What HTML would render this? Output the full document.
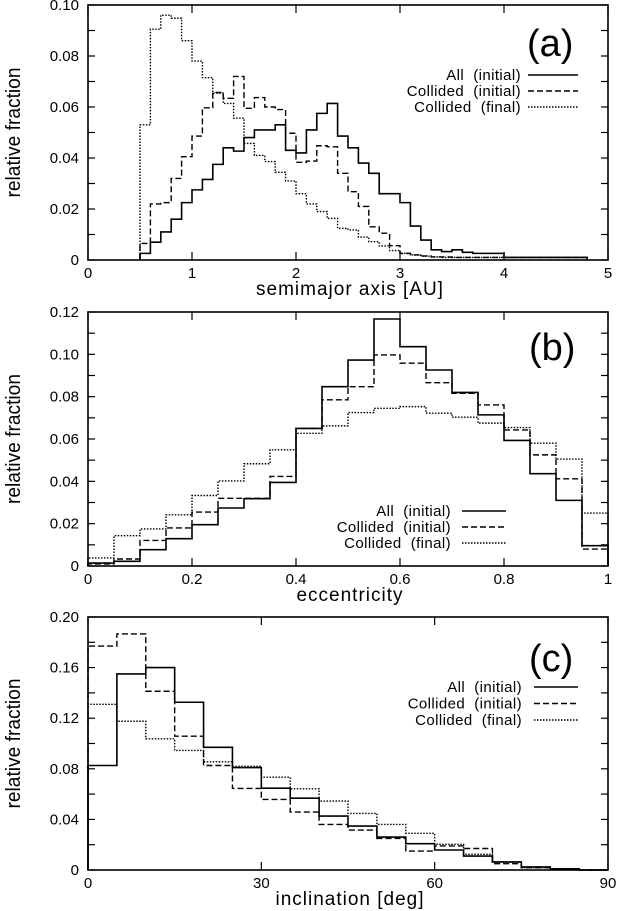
<!DOCTYPE html>
<html><head><meta charset="utf-8"><style>
html,body{margin:0;padding:0;background:#fff;}
svg{display:block;font-family:"Liberation Sans",sans-serif;}
text{white-space:pre;}
</style></head><body>
<svg id="chart" width="622" height="911" viewBox="0 0 622 911" xmlns="http://www.w3.org/2000/svg"></svg>
<script>
// ---- Panel (a): semimajor axis, bins of 0.1 AU starting at 0.5 ----
const aStart = 0.5;
const aBinWidth = 0.1;
const aAllInitial = [0.0026,0.007,0.011,0.016,0.0225,0.0275,0.0316,0.0375,0.044,0.0427,0.048,0.051,0.051,0.053,0.043,0.042,0.051,0.0575,0.0614,0.0486,0.044,0.038,0.034,0.026,0.026,0.0225,0.0133,0.0078,0.004,0.0033,0.004,0.003,0.0026,0.0026,0.0026,0.001,0.001,0.001,0.001,0.001,0.001,0.001,0.001];
const aCollInitial = [0.0065,0.022,0.0225,0.032,0.0405,0.0486,0.0597,0.0657,0.0634,0.072,0.0595,0.0637,0.06,0.059,0.0497,0.0383,0.0388,0.0448,0.0444,0.034,0.0268,0.021,0.013,0.0105,0.0056,0.0026,0.002,0.0016,0.0012,0.0012,0.001,0.001,0.001,0.001,0.001,0.001,0.001,0.001,0.001,0.001,0.001,0.001,0.001];
const aCollFinal = [0.053,0.0905,0.096,0.0948,0.086,0.078,0.0715,0.0654,0.0614,0.0556,0.0457,0.041,0.0386,0.0344,0.031,0.026,0.022,0.019,0.0163,0.0124,0.0118,0.009,0.0072,0.0055,0.0037,0.0026,0.002,0.0015,0.0012,0.001,0.001,0.001,0.001,0.001,0.001,0.001,0.001,0.001,0.001,0.001,0.001,0.001,0.001];
const aXTicks = ["0","1","2","3","4","5"];
const aYTicks = ["0","0.02","0.04","0.06","0.08","0.10"];

// ---- Panel (b): eccentricity, bins of 0.05 ----
const bStart = 0;
const bBinWidth = 0.05;
const bAllInitial = [0.0014,0.0022,0.0077,0.0129,0.0195,0.0274,0.0318,0.0395,0.065,0.0847,0.0973,0.1167,0.1036,0.0926,0.082,0.0714,0.0593,0.0436,0.031,0.0096];
const bCollInitial = [0.001,0.0033,0.0121,0.018,0.0255,0.032,0.032,0.0423,0.065,0.0785,0.0847,0.0997,0.0958,0.0866,0.0816,0.0761,0.0643,0.0525,0.0412,0.008];
const bCollFinal = [0.0038,0.0143,0.0175,0.0242,0.0333,0.0402,0.0483,0.0549,0.0627,0.0662,0.0725,0.0745,0.0753,0.0722,0.0703,0.0675,0.0654,0.058,0.0505,0.025];
const bXTicks = ["0","0.2","0.4","0.6","0.8","1"];
const bYTicks = ["0","0.02","0.04","0.06","0.08","0.10","0.12"];

// ---- Panel (c): inclination, bins of 5 deg ----
const cStart = 0;
const cBinWidth = 5;
const cAllInitial = [0.0826,0.155,0.16,0.1326,0.097,0.081,0.0647,0.0568,0.0426,0.0347,0.026,0.0208,0.0158,0.011,0.0063,0.0024,0.001,0];
const cCollInitial = [0.177,0.1866,0.1413,0.1058,0.0826,0.0645,0.0558,0.0458,0.036,0.0316,0.025,0.015,0.019,0.017,0.005,0.0018,0.0005,0];
const cCollFinal = [0.131,0.1176,0.1037,0.0945,0.0855,0.082,0.0734,0.0642,0.0545,0.0447,0.036,0.029,0.0203,0.0124,0.0066,0.0018,0.0003,0];
const cXTicks = ["0","30","60","90"];
const cYTicks = ["0","0.04","0.08","0.12","0.16","0.20"];

const NS = "http://www.w3.org/2000/svg";
const svg = document.getElementById("chart");
function mk(tag, attrs, parent){
  const e = document.createElementNS(NS, tag);
  for (const k in attrs) e.setAttribute(k, attrs[k]);
  (parent||svg).appendChild(e);
  return e;
}
const dashes = {solid:"", dashed:"6,3", dotted:"1.5,1.5"};

function panel(cfg){
  const g = mk("g", {});
  
  
  const L=88, R=608, T=cfg.top, B=cfg.bottom;
  const sx = v => L + (v - cfg.xmin)/(cfg.xmax - cfg.xmin)*(R-L);
  const sy = v => B - (v - 0)/(cfg.ymax)*(B-T);
  const series = [[cfg.all,"solid","series-all-initial"],[cfg.ci,"dashed","series-collided-initial"],[cfg.cf,"dotted","series-collided-final"]];
  series.forEach(([vals,style,nm])=>{
    let d = "M" + sx(cfg.start) + "," + sy(0);
    vals.forEach((v,i)=>{
      const x0 = sx(cfg.start + i*cfg.bw), x1 = sx(cfg.start + (i+1)*cfg.bw);
      d += " L" + x0.toFixed(2) + "," + sy(v).toFixed(2) + " L" + x1.toFixed(2) + "," + sy(v).toFixed(2);
    });
    d += " L" + sx(cfg.start + vals.length*cfg.bw).toFixed(2) + "," + sy(0);
    const p = mk("path", {d:d, fill:"none", stroke:"#000", "stroke-width": style==="solid"?1.6:1.4}, g);
    if (dashes[style]) p.setAttribute("stroke-dasharray", dashes[style]);
    
    
  });
  const fr = mk("rect", {x:L, y:T, width:R-L, height:B-T, fill:"none", stroke:"#000", "stroke-width":1.6}, g);
  
  
  for (let v=0; v<=cfg.ymax+1e-9; v+=cfg.yminor){
    const y = sy(v);
    mk("line",{x1:L,y1:y,x2:L+7,y2:y,stroke:"#000","stroke-width":1.2},g);
    mk("line",{x1:R,y1:y,x2:R-7,y2:y,stroke:"#000","stroke-width":1.2},g);
  }
  cfg.yTicks.forEach(lbl=>{
    const t = mk("text",{x:79,y:sy(parseFloat(lbl))+5,"text-anchor":"end","font-size":15},g);
    t.textContent = lbl;
    
    
  });
  cfg.xTicks.forEach(lbl=>{
    const x = sx(parseFloat(lbl));
    mk("line",{x1:x,y1:B,x2:x,y2:B-8,stroke:"#000","stroke-width":1.2},g);
    mk("line",{x1:x,y1:T,x2:x,y2:T+8,stroke:"#000","stroke-width":1.2},g);
    const t = mk("text",{x:x,y:B+18,"text-anchor":"middle","font-size":15},g);
    t.textContent = lbl;
    
    
  });
  const xl = mk("text",{x:350,y:B+35,"text-anchor":"middle","font-size":19,"letter-spacing":"1"},g);
  xl.textContent = cfg.xlabel;
  
  
  const yc = (T+B)/2;
  const yl = mk("text",{x:0,y:0,"text-anchor":"middle","font-size":20,transform:"translate(20,"+yc+") rotate(-90)",textLength:130,lengthAdjust:"spacingAndGlyphs"},g);
  yl.textContent = "relative fraction";
  
  
  const pl = mk("text",{x:cfg.lblX,y:cfg.lblY,"font-size":38},g);
  pl.textContent = cfg.label;
  
  
  const names = ["All  (initial)","Collided  (initial)","Collided  (final)"];
  const styles = ["solid","dashed","dotted"];
  names.forEach((n,i)=>{
    const y = cfg.legY + i*cfg.legDy;
    const t = mk("text",{x:cfg.legTextX,y:y+5,"text-anchor":"end","font-size":15,"letter-spacing":"0.4"},g);
    t.textContent = n;
    
    
    const ln = mk("line",{x1:cfg.legLine[0],y1:y,x2:cfg.legLine[1],y2:y,stroke:"#000","stroke-width":1.4},g);
    if (dashes[styles[i]]) ln.setAttribute("stroke-dasharray", dashes[styles[i]]);
    
    
  });
}

panel({name:"panel-a-semimajor-axis",top:5,bottom:260,xmin:0,xmax:5,ymax:0.10,yminor:0.01,
  start:aStart,bw:aBinWidth,all:aAllInitial,ci:aCollInitial,cf:aCollFinal,xTicks:aXTicks,yTicks:aYTicks,
  xlabel:"semimajor axis [AU]",label:"(a)",lblX:527,lblY:56,legY:75,legDy:16,legTextX:521,legLine:[528,578]});
panel({name:"panel-b-eccentricity",top:312,bottom:566,xmin:0,xmax:1,ymax:0.12,yminor:0.01,
  start:bStart,bw:bBinWidth,all:bAllInitial,ci:bCollInitial,cf:bCollFinal,xTicks:bXTicks,yTicks:bYTicks,
  xlabel:"eccentricity",label:"(b)",lblX:529,lblY:360,legY:511,legDy:16,legTextX:451,legLine:[462,506]});
panel({name:"panel-c-inclination",top:617,bottom:870,xmin:0,xmax:90,ymax:0.20,yminor:0.02,
  start:cStart,bw:cBinWidth,all:cAllInitial,ci:cCollInitial,cf:cCollFinal,xTicks:cXTicks,yTicks:cYTicks,
  xlabel:"inclination [deg]",label:"(c)",lblX:529,lblY:671,legY:687,legDy:16.5,legTextX:522,legLine:[534,578]});
</script>
</body></html>
